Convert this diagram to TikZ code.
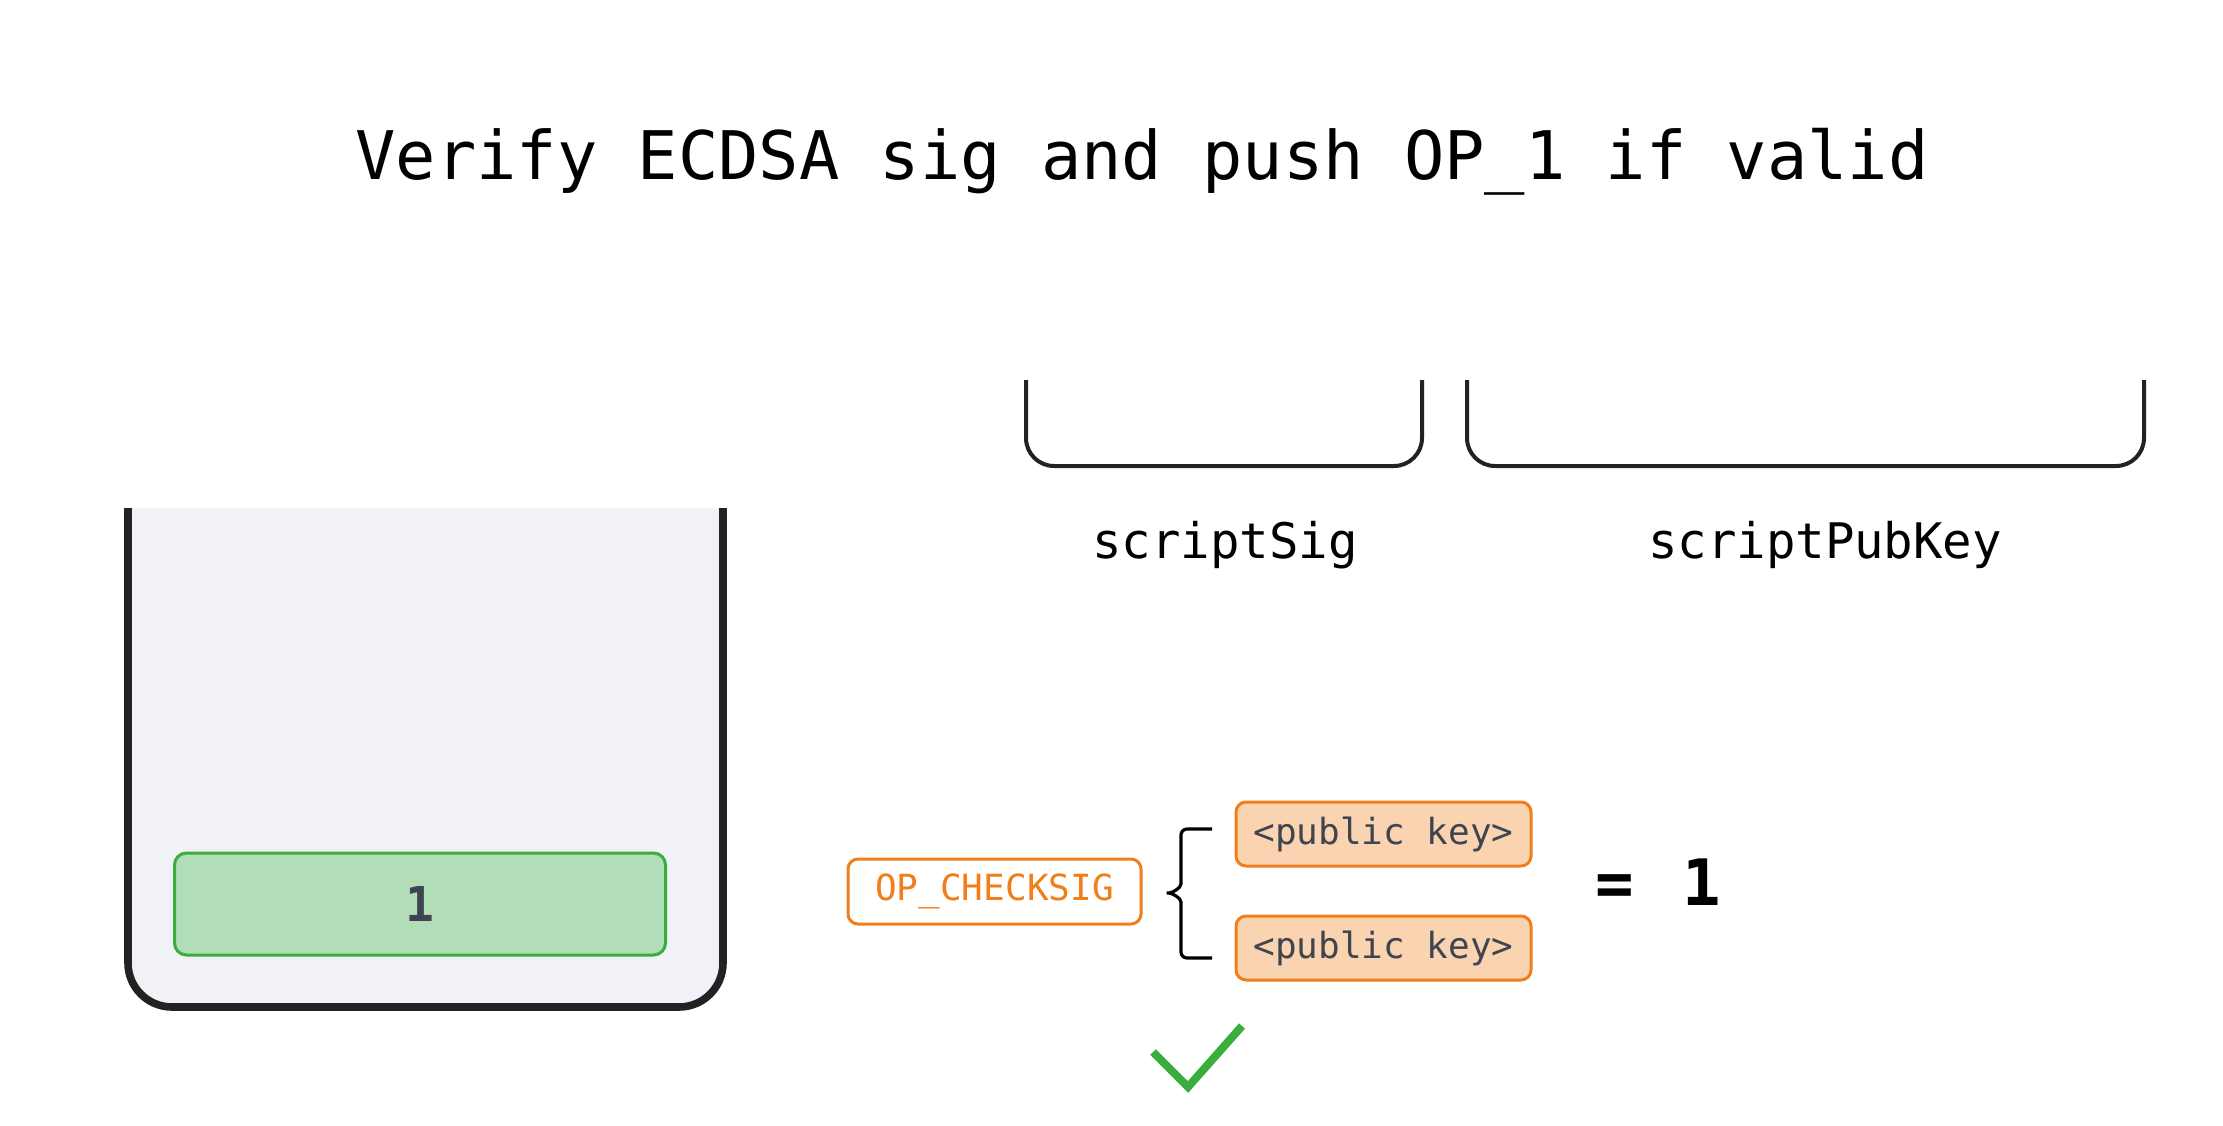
\documentclass[tikz,border=0pt]{standalone}
\usepackage{fontspec}
\newfontfamily\mono{DejaVu Sans Mono}
\definecolor{stackfill}{HTML}{F1F2F7}
\definecolor{stackline}{HTML}{222222}
\definecolor{greenfill}{HTML}{B2DDB9}
\definecolor{greenline}{HTML}{3AAE3C}
\definecolor{orangeline}{HTML}{F07E1B}
\definecolor{peach}{HTML}{FAD3B0}
\definecolor{darktext}{HTML}{3F4550}
\tikzset{
  titletext/.style={font=\mono\fontsize{33.5}{40}\selectfont, text=black},
  labeltext/.style={font=\mono\fontsize{24.5}{30}\selectfont, text=black},
  opbox/.style={draw=orangeline, line width=1.5pt, rounded corners=5pt, fill=white,
     text=orangeline, font=\mono\fontsize{18}{22}\selectfont, inner sep=0pt},
  keybox/.style={draw=orangeline, line width=1.5pt, rounded corners=5pt, fill=peach,
     text=darktext, font=\mono\fontsize{18}{22}\selectfont, inner sep=0pt},
  stackitem/.style={draw=greenline, line width=1.5pt, rounded corners=6pt, fill=greenfill,
     text=darktext, font=\mono\bfseries\fontsize{24}{28}\selectfont, inner sep=0pt},
  bracketline/.style={draw=stackline, line width=2pt, rounded corners=14pt},
}
\begin{document}
\begin{tikzpicture}[x=0.5pt, y=-0.5pt]
\useasboundingbox (0,0) rectangle (2223,1125);
% title
\node[titletext] (title) at (1142,162) {Verify ECDSA sig and push OP\_1 if valid};
% stack
\fill[stackfill, rounded corners=22pt] (128,508) -- (128,1007) -- (723,1007) -- (723,508) -- cycle;
\fill[stackfill] (128,508) rectangle (723,560);
\draw[stackline, line width=3.8pt, rounded corners=22pt] (128,508) -- (128,1007) -- (723,1007) -- (723,508);
\node[stackitem, minimum width=245.5pt, minimum height=51pt] (one) at (420,904) {1};
% brackets
\draw[bracketline] (1026,380) -- (1026,466) -- (1422,466) -- (1422,380);
\draw[bracketline] (1467,380) -- (1467,466) -- (2144,466) -- (2144,380);
\node[labeltext] (sig) at (1225,545) {scriptSig};
\node[labeltext] (pub) at (1825,545) {scriptPubKey};
% op checksig
\node[opbox, minimum width=146.5pt, minimum height=32.5pt] (op) at (994.5,891.5) {OP\_CHECKSIG};
\node[keybox, minimum width=147.5pt, minimum height=32pt] (k1) at (1383.5,834) {<public key>};
\node[keybox, minimum width=147.5pt, minimum height=32pt] (k2) at (1383.5,948) {<public key>};
% brace
\coordinate (bt) at (1212,829);
\coordinate (bb) at (1212,958);
\coordinate (tip) at (1163,893);
\draw[black, line width=1.6pt, rounded corners=3pt] (bt) -- (1181,829) -- (1181,878)
  .. controls (1181,888) and (1172,893) .. (tip)
  .. controls (1172,893) and (1181,898) .. (1181,908) -- (1181,958) -- (bb);
% result
\node[font=\mono\bfseries\fontsize{32}{38}\selectfont, text=black, anchor=center] (res) at (1658,882) {=\hspace{0.75em}1};
% check mark
\coordinate (c1) at (1153,1052);
\coordinate (c2) at (1188,1087);
\coordinate (c3) at (1242,1026);
\draw[greenline, line width=4pt] (c1) -- (c2) -- (c3);
\end{tikzpicture}
\end{document}
